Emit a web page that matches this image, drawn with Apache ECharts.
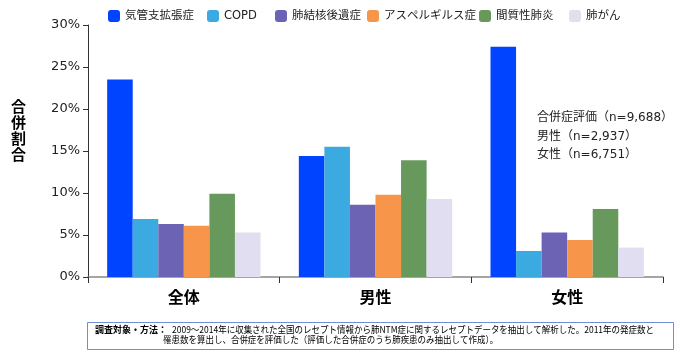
<!DOCTYPE html>
<html><head><meta charset="utf-8">
<script src="https://cdn.jsdelivr.net/npm/echarts@6/dist/echarts.min.js"></script>
<style>html,body{margin:0;padding:0;background:#fff}#c{width:680px;height:361px}</style>
</head><body><div id="c"></div>
<script>
const categories = ['全体', '男性', '女性'];
const seriesNames = ['気管支拡張症', 'COPD', '肺結核後遺症', 'アスペルギルス症', '間質性肺炎', '肺がん'];
const bronchiectasis = [23.5, 14.4, 27.4];
const copd = [6.9, 15.5, 3.1];
const tbSequelae = [6.3, 8.6, 5.3];
const aspergillosis = [6.1, 9.8, 4.4];
const interstitial = [9.9, 13.9, 8.1];
const lungCancer = [5.3, 9.3, 3.5];
const yTicks = [0, 5, 10, 15, 20, 25, 30];
const notes = ['合併症評価（n=9,688）', '男性（n=2,937）', '女性（n=6,751）'];
const footLabel = '調査対象・方法：';
const footLine1 = '2009～2014年に収集された全国のレセプト情報から肺NTM症に関するレセプトデータを抽出して解析した。2011年の発症数と';
const footLine2 = '罹患数を算出し、合併症を評価した（評価した合併症のうち肺疾患のみ抽出して作成）。';

const values = [bronchiectasis, copd, tbSequelae, aspergillosis, interstitial, lungCancer];
const colors = ['#0044FF', '#3BAAE0', '#6C63B4', '#F7964A', '#67985C', '#E0DEF0'];
const legendLeft = [108, 207, 275, 367, 479, 569];
const FONT = '"DejaVu Sans", "Noto Sans CJK JP", sans-serif';
const CJK = '"Noto Sans CJK JP", sans-serif';

const ctx = document.createElement('canvas').getContext('2d');
function measure(text, font) { ctx.font = font; return ctx.measureText(text).width; }
const footFont = '9.5px ' + CJK;
const footBold = 'bold 9.5px ' + CJK;
const bodyScale = 482 / measure(footLine1, footFont);
const labelScale = 72 / measure(footLabel, footBold);

const chart = echarts.init(document.getElementById('c'), null, {renderer: 'canvas'});
chart.setOption({
  animation: false,
  textStyle: {fontFamily: FONT},
  color: colors,
  legend: seriesNames.map((n, i) => ({
    top: 10, left: legendLeft[i], itemWidth: 12, itemHeight: 12, padding: 0,
    textStyle: {fontSize: 11.5, color: '#222', fontFamily: FONT},
    data: [n]
  })),
  grid: {left: 88, right: 17, top: 25, bottom: 84, containLabel: false},
  xAxis: {
    type: 'category', data: categories,
    axisLine: {lineStyle: {color: '#888', width: 1.5}},
    axisTick: {show: true, length: 6, lineStyle: {color: '#333'}},
    axisLabel: {fontSize: 16, fontWeight: 'bold', color: '#000', margin: 14, fontFamily: FONT}
  },
  yAxis: {
    type: 'value', min: 0, max: 30, interval: 5,
    axisLine: {show: true, lineStyle: {color: '#333'}},
    axisTick: {show: true, length: 5, lineStyle: {color: '#333'}},
    splitLine: {show: false},
    axisLabel: {fontSize: 13, color: '#222', margin: 8, fontFamily: FONT,
      formatter: v => yTicks.includes(v) ? v + '%' : ''}
  },
  series: seriesNames.map((n, i) => ({
    name: n, type: 'bar', data: values[i],
    barGap: '0%', barCategoryGap: '20%',
    itemStyle: {color: colors[i]}
  })),
  graphic: [
    {type: 'text', left: 11, top: 98, style: {text: '合\n併\n割\n合', lineHeight: 16, fill: '#000', font: 'bold 15px ' + CJK}},
    {type: 'text', left: 537, top: 109, style: {text: notes.join('\n'), lineHeight: 18.5, fill: '#222', font: '12px ' + FONT}},
    {type: 'rect', shape: {x: 87.5, y: 322.5, width: 586, height: 27}, style: {fill: '#fff', stroke: '#6E8FD8', lineWidth: 1}},
    {type: 'text', x: 95, y: 329.5, scaleX: labelScale, style: {x: 0, y: 0, text: footLabel, font: footBold, fill: '#000', verticalAlign: 'middle'}},
    {type: 'text', x: 172, y: 329.5, scaleX: bodyScale, style: {x: 0, y: 0, text: footLine1, font: footFont, fill: '#000', verticalAlign: 'middle'}},
    {type: 'text', x: 163, y: 339.5, scaleX: bodyScale, style: {x: 0, y: 0, text: footLine2, font: footFont, fill: '#000', verticalAlign: 'middle'}}
  ]
});
</script></body></html>
